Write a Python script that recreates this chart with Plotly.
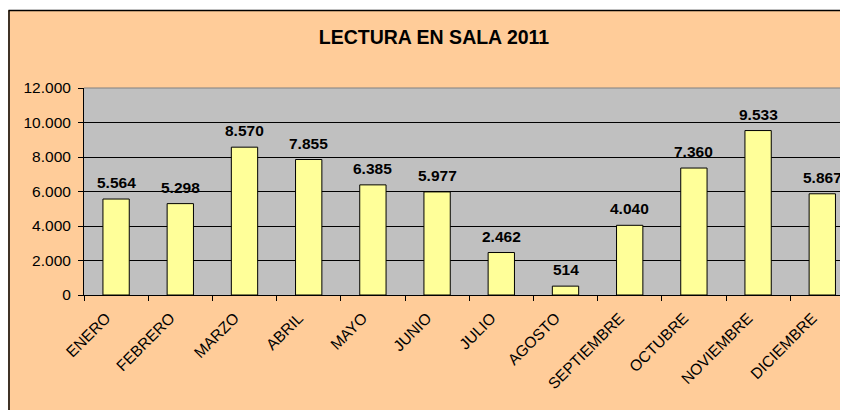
import plotly.graph_objects as go

months = ["ENERO", "FEBRERO", "MARZO", "ABRIL", "MAYO", "JUNIO", "JULIO",
          "AGOSTO", "SEPTIEMBRE", "OCTUBRE", "NOVIEMBRE", "DICIEMBRE"]
readings = [5564, 5298, 8570, 7855, 6385, 5977, 2462, 514, 4040, 7360, 9533, 5867]
y_ticks = [0, 2000, 4000, 6000, 8000, 10000, 12000]
title_text = "LECTURA EN SALA 2011"

# the page body has an 8px margin, so the figure sits at (8, 8) in the window
W, H = 840, 402
L, R, T, B = 76, 0, 80, 115
pw, ph = W - L - R, H - T - B
FONT = "Liberation Sans, Arial, sans-serif"


def px_x(p):
    return (p - L) / pw


def px_y(q):
    return (H - B - q) / ph


fig = go.Figure()
fig.add_trace(go.Bar(
    x=months, y=readings,
    marker=dict(color="#FFFF99", line=dict(color="#000000", width=1)),
    hoverinfo="skip",
))

for m, v in zip(months, readings):
    fig.add_annotation(
        x=m, y=v, xref="x", yref="y", text="<b>%s</b>" % f"{v:,}".replace(",", "."),
        showarrow=False, yanchor="bottom", yshift=6,
        font=dict(family=FONT, size=15.5, color="#000000"),
    )

cat_w = 64.2
x_end = -0.5 + pw / cat_w

fig.update_layout(
    width=W, height=H,
    margin=dict(l=L, r=R, t=T, b=B, pad=0, autoexpand=False),
    paper_bgcolor="#FFCC99",
    plot_bgcolor="#C0C0C0",
    separators=",.",
    bargap=0.59,
    showlegend=False,
    title=dict(text="<b>" + title_text + "</b>", xref="container", yref="container",
               x=426 / W, y=1 - 29 / H, xanchor="center", yanchor="middle",
               font=dict(family=FONT, size=19.5, color="#000000")),
    font=dict(family=FONT, size=15.5, color="#000000"),
    xaxis=dict(
        type="category", range=[-0.5, x_end], tickangle=-45, automargin=False,
        tickson="boundaries", ticks="outside", ticklen=5, tickcolor="#000000",
        ticklabelstandoff=7, ticklabelshift=-10,
        showgrid=False, showline=True, linecolor="#000000", linewidth=1,
        tickfont=dict(family=FONT, size=15.5, color="#000000"),
        fixedrange=True,
    ),
    yaxis=dict(
        range=[0, 12000], tickvals=y_ticks, tickformat=",.0f", automargin=False,
        ticks="outside", ticklen=5, tickcolor="#000000", ticklabelstandoff=4,
        showgrid=True, gridcolor="#000000", gridwidth=1,
        showline=True, linecolor="#000000", linewidth=1,
        zeroline=False,
        tickfont=dict(family=FONT, size=15.5, color="#000000"),
        fixedrange=True,
    ),
    shapes=[
        dict(type="line", xref="paper", yref="paper", x0=0, x1=1, y0=1, y1=1,
             line=dict(color="#808080", width=1), layer="above"),
        dict(type="rect", xref="paper", yref="paper", x0=px_x(-5), x1=px_x(W + 5),
             y0=px_y(2), y1=px_y(-5), fillcolor="#FFFFFF", line=dict(width=0), layer="above"),
        dict(type="line", xref="paper", yref="paper", x0=px_x(0.5), x1=px_x(W + 5),
             y0=px_y(2.5), y1=px_y(2.5), line=dict(color="#000000", width=1.5), layer="above"),
        dict(type="line", xref="paper", yref="paper", x0=px_x(1), x1=px_x(1),
             y0=px_y(2.5), y1=px_y(H + 5), line=dict(color="#000000", width=1.5), layer="above"),
    ],
)

fig.write_html("out.html")
